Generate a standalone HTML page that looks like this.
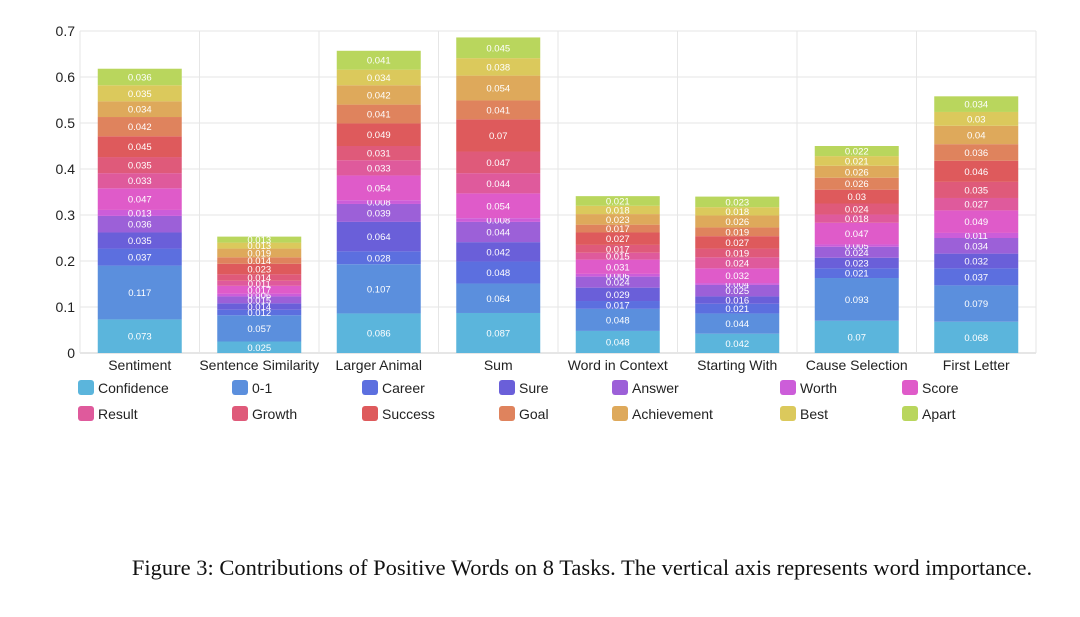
<!DOCTYPE html>
<html><head><meta charset="utf-8">
<style>
body{margin:0;background:#fff;width:1080px;height:617px;overflow:hidden;font-family:"Liberation Sans",sans-serif;}
svg text{font-family:"Liberation Sans",sans-serif;}
.cap{position:absolute;left:42px;width:1080px;top:555px;text-align:center;font-family:"Liberation Serif",serif;font-size:22.5px;color:#111;white-space:nowrap;}
</style></head>
<body>
<svg id="chart" width="1080" height="617" style="position:absolute;left:0;top:0"></svg>
<div class="cap">Figure 3: Contributions of Positive Words on 8 Tasks. The vertical axis represents word importance.</div>
<script>
const categories=["Sentiment","Sentence Similarity","Larger Animal","Sum","Word in Context","Starting With","Cause Selection","First Letter"];
const seriesNames=["Confidence","0-1","Career","Sure","Answer","Worth","Score","Result","Growth","Success","Goal","Achievement","Best","Apart"];
const seriesColors=["#5bb5dc","#5b8fdd","#5c6fdf","#6a5fd9","#9c60d8","#cc5dd9","#df5bc9","#df5a9c","#df5a7a","#de5a5c","#df835d","#dea95b","#dbc95c","#b9d65d"];
const sentiment=[0.073,0.117,0.037,0.035,0.036,0.013,0.047,0.033,0.035,0.045,0.042,0.034,0.035,0.036];
const sentenceSimilarity=[0.025,0.057,0.012,0.014,0.015,0.006,0.017,0.011,0.014,0.023,0.014,0.019,0.013,0.013];
const largerAnimal=[0.086,0.107,0.028,0.064,0.039,0.008,0.054,0.033,0.031,0.049,0.041,0.042,0.034,0.041];
const sumTask=[0.087,0.064,0.048,0.042,0.044,0.008,0.054,0.044,0.047,0.07,0.041,0.054,0.038,0.045];
const wordInContext=[0.048,0.048,0.017,0.029,0.024,0.006,0.031,0.015,0.017,0.027,0.017,0.023,0.018,0.021];
const startingWith=[0.042,0.044,0.021,0.016,0.025,0.004,0.032,0.024,0.019,0.027,0.019,0.026,0.018,0.023];
const causeSelection=[0.07,0.093,0.021,0.023,0.024,0.005,0.047,0.018,0.024,0.03,0.026,0.026,0.021,0.022];
const firstLetter=[0.068,0.079,0.037,0.032,0.034,0.011,0.049,0.027,0.035,0.046,0.036,0.04,0.03,0.034];
const yTicks=[0,0.1,0.2,0.3,0.4,0.5,0.6,0.7];
const yTickLabels=["0","0.1","0.2","0.3","0.4","0.5","0.6","0.7"];

const taskValues=[sentiment,sentenceSimilarity,largerAnimal,sumTask,wordInContext,startingWith,causeSelection,firstLetter];
const NS="http://www.w3.org/2000/svg";
const svg=document.getElementById('chart');
const L=80,R=1036,Y0=353,Y1=31,YMAX=0.7;
const band=(R-L)/categories.length, barW=84;
const y=v=>Y0-(v/YMAX)*(Y0-Y1);
const xc=i=>L+band*(i+0.5);
function mk(tag,attrs,parent){const e=document.createElementNS(NS,tag);for(const k in attrs)e.setAttribute(k,attrs[k]);(parent||svg).appendChild(e);return e;}
yTicks.forEach((t,i)=>{
  const g=mk('line',{x1:L,x2:R,y1:y(t),y2:y(t),stroke:i===0?'#ccc':'#e6e6e6','stroke-width':1});
  
  
  const tx=mk('text',{x:75,y:y(t)+5,'text-anchor':'end','font-size':14,fill:'#222'});
  tx.textContent=yTickLabels[i];
  
  
});
for(let i=0;i<=categories.length;i++){
  const g=mk('line',{x1:L+band*i,x2:L+band*i,y1:Y1,y2:Y0,stroke:'#e6e6e6','stroke-width':1});
  
  
}
categories.forEach((c,i)=>{
  let acc=0;
  taskValues[i].forEach((v,s)=>{
    const yt=y(acc+v), yb=y(acc);
    const r=mk('rect',{x:xc(i)-barW/2,y:yt,width:barW,height:yb-yt,fill:seriesColors[s]});
    
    
    const t=mk('text',{x:xc(i),y:(yt+yb)/2+3.5,'text-anchor':'middle','font-size':9.5,fill:'#fff'});
    t.textContent=String(v);
    
    
    acc+=v;
  });
  const lab=mk('text',{x:xc(i),y:370,'text-anchor':'middle','font-size':14,fill:'#222'});
  lab.textContent=c;
  
  
});
const legX=[78,232,362,499,612,780,902];
seriesNames.forEach((n,s)=>{
  const col=s%7,row=Math.floor(s/7);
  const gx=legX[col],gy=380+row*26;
  const g=mk('g',{});
  
  
  mk('rect',{x:gx,y:gy,width:16,height:15,rx:3,fill:seriesColors[s]},g);
  const t=mk('text',{x:gx+20,y:gy+13,'font-size':14,fill:'#222'},g);
  t.textContent=n;
});
</script>
</body></html>
